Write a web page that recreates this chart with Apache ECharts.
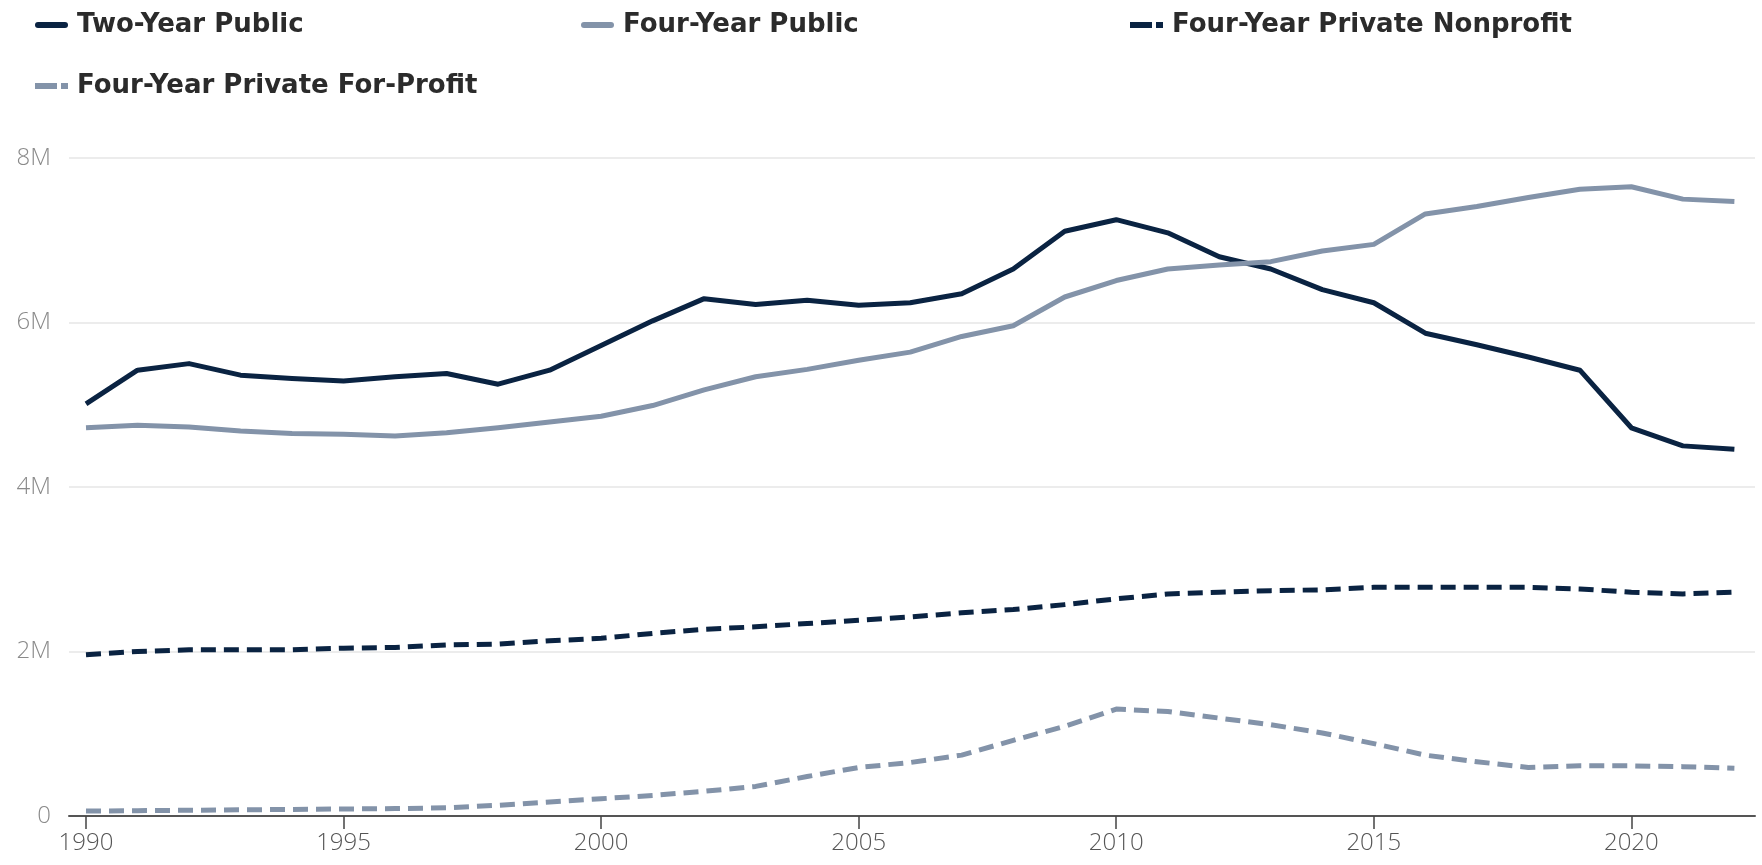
<!DOCTYPE html>
<html>
<head>
<meta charset="utf-8">
<script src="https://cdn.jsdelivr.net/npm/echarts@6/dist/echarts.min.js"></script>
<style>
  html, body { margin: 0; padding: 0; background: #fff; }
  #main { width: 1762px; height: 865px; }
</style>
</head>
<body>
<div id="main"></div>
<script>
// years and tick labels
var years = [1990,1991,1992,1993,1994,1995,1996,1997,1998,1999,2000,2001,2002,2003,2004,2005,2006,2007,2008,2009,2010,2011,2012,2013,2014,2015,2016,2017,2018,2019,2020,2021,2022];
var yearTicks = [1990, 1995, 2000, 2005, 2010, 2015, 2020];

// enrollment, millions
var twoYearPublic = [5.01,5.42,5.50,5.36,5.32,5.29,5.34,5.38,5.25,5.42,5.72,6.02,6.29,6.22,6.27,6.21,6.24,6.35,6.65,7.11,7.25,7.09,6.80,6.65,6.40,6.24,5.87,5.73,5.58,5.42,4.72,4.50,4.46];
var fourYearPublic = [4.72,4.75,4.73,4.68,4.65,4.64,4.62,4.66,4.72,4.79,4.86,4.99,5.18,5.34,5.43,5.54,5.64,5.83,5.96,6.31,6.51,6.65,6.70,6.74,6.87,6.95,7.32,7.41,7.52,7.62,7.65,7.50,7.47];
var fourYearNonprofit = [1.96,2.00,2.02,2.02,2.02,2.04,2.05,2.08,2.09,2.13,2.16,2.22,2.27,2.30,2.34,2.38,2.42,2.47,2.51,2.57,2.64,2.70,2.72,2.74,2.75,2.78,2.78,2.78,2.78,2.76,2.72,2.70,2.72];
var fourYearForProfit = [0.06,0.065,0.07,0.075,0.08,0.085,0.09,0.10,0.13,0.17,0.21,0.25,0.30,0.36,0.48,0.59,0.65,0.74,0.92,1.09,1.30,1.27,1.19,1.11,1.01,0.88,0.74,0.66,0.59,0.61,0.61,0.60,0.58];

var navy = '#0a2342';
var slate = '#8393a9';

// legend swatches: a thick bar, or a long + short dash
var solidIcon = 'path://M3,0H30A3,3,0,0,1,30,6H3A3,3,0,0,1,3,0Z';
var dashIcon = 'path://M0,0H22V6H0Z M26,0H33V6H26Z';

function pairs(vals) {
  return years.map(function (y, i) { return [y, vals[i] * 1e6]; });
}

function makeLegend(name, icon, left, top) {
  return {
    data: [{ name: name, icon: icon }],
    left: left,
    top: top,
    itemWidth: 33,
    itemHeight: 6,
    selectedMode: false,
    textStyle: {
      fontFamily: 'DejaVu Sans',
      fontWeight: 'bold',
      fontSize: 26,
      color: '#2b2b2b',
      lineHeight: 30,
      padding: [0, 0, 0, 4]
    }
  };
}

function makeLine(name, vals, color, dashed) {
  return {
    name: name,
    type: 'line',
    data: pairs(vals),
    symbol: 'none',
    lineStyle: {
      color: color,
      width: 5,
      type: dashed ? [15, 8] : 'solid',
      cap: 'butt',
      join: 'round'
    },
    itemStyle: { color: color }
  };
}

var chart = echarts.init(document.getElementById('main'), null, { renderer: 'canvas' });

chart.setOption({
  backgroundColor: '#fff',
  animation: false,
  legend: [
    makeLegend('Two-Year Public', solidIcon, 30, 5),
    makeLegend('Four-Year Public', solidIcon, 576, 5),
    makeLegend('Four-Year Private Nonprofit', dashIcon, 1125, 5),
    makeLegend('Four-Year Private For-Profit', dashIcon, 30, 66)
  ],
  grid: {
    left: 69,
    right: 7,
    top: 158,
    bottom: 49
  },
  xAxis: {
    type: 'value',
    min: 1989.67,
    max: 2022.4,
    splitLine: { show: false },
    axisLine: { show: true, onZero: false, lineStyle: { color: '#555', width: 2 } },
    axisTick: {
      show: true,
      customValues: yearTicks,
      length: 13,
      lineStyle: { color: '#444', width: 1.5 }
    },
    axisLabel: {
      customValues: yearTicks,
      margin: 15,
      fontFamily: 'Open Sans',
      fontWeight: 300,
      fontSize: 24,
      color: '#555',
      formatter: function (v) { return String(v); }
    }
  },
  yAxis: {
    type: 'value',
    min: 0,
    max: 8e6,
    interval: 2e6,
    axisLine: { show: false },
    axisTick: { show: false },
    splitLine: { lineStyle: { color: '#e6e6e6', width: 1.5 } },
    axisLabel: {
      margin: 18,
      fontFamily: 'Open Sans',
      fontWeight: 300,
      fontSize: 24,
      color: '#8a8a8a',
      formatter: function (v) { return v === 0 ? '0' : (v / 1e6) + 'M'; }
    }
  },
  series: [
    makeLine('Two-Year Public', twoYearPublic, navy, false),
    makeLine('Four-Year Public', fourYearPublic, slate, false),
    makeLine('Four-Year Private Nonprofit', fourYearNonprofit, navy, true),
    makeLine('Four-Year Private For-Profit', fourYearForProfit, slate, true)
  ]
});
</script>
</body>
</html>
